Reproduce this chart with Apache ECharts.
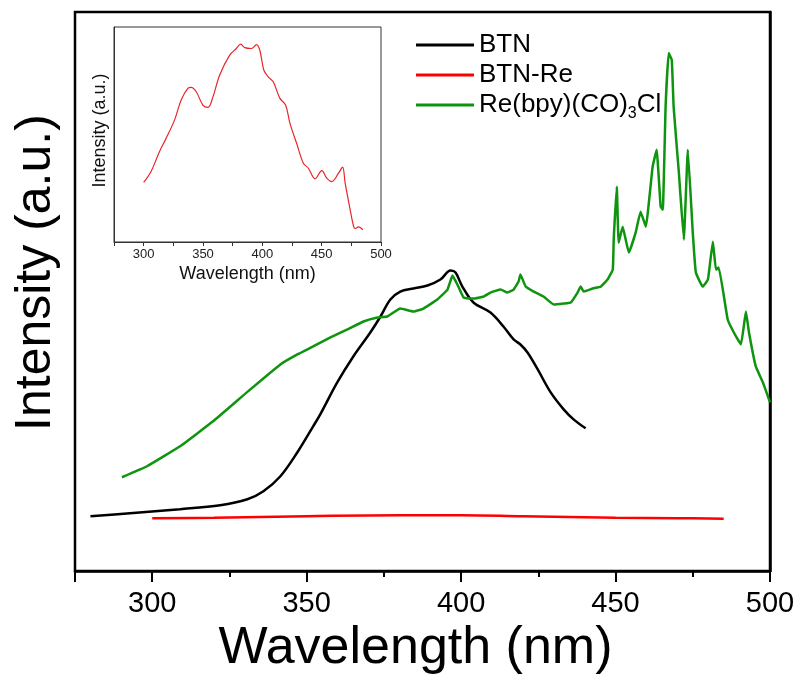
<!DOCTYPE html>
<html>
<head>
<meta charset="utf-8">
<script src="https://cdn.jsdelivr.net/npm/echarts@6/dist/echarts.min.js"></script>
<style>
  html, body { margin: 0; padding: 0; background: #fff; }
  #chart { width: 803px; height: 680px; }
</style>
</head>
<body>
<div id="chart"></div>
<script>
// Emission spectra: wavelength (nm) vs intensity (a.u.)
const btnWl = [280, 292.8, 309, 322, 330.8, 336, 341.5, 347, 352.1, 354.4, 359.9, 365.1, 370.6, 373.9, 377.1, 380.3, 384.6, 389.1, 393.3, 396.6, 398.2, 400.4, 404, 409.5, 413.7, 417, 419.2, 421.5, 424.8, 429, 433.2, 436.4, 440.3];
const btnI  = [55, 58, 62, 66, 72, 80, 95, 119, 145, 157, 189, 215, 239, 255, 272, 280, 283, 286, 292, 301, 299, 285, 269, 259, 245, 232, 227, 219, 202, 179, 162, 152, 143];

const btnReWl = [300, 320, 350, 380, 400, 420, 450, 470, 485];
const btnReI  = [53, 53.5, 55, 56, 56, 55, 53.5, 53, 52.5];

const reWl = [290.2, 298.3, 309, 319.7, 331, 341.5, 347, 352.1, 357.7, 363.2, 368.4, 372.9, 376.1, 380.3, 384.6, 387.8, 392.3, 395.6, 397.2, 398.8, 400.8, 404, 407.3, 409.5, 412.8, 415, 417, 418.6, 419.2, 420.9, 423.5, 426.7, 430, 433.2, 435.5, 437.7, 438.7, 439.7, 442.6, 445.2, 447.4, 449.1, 449.4, 450.4, 451, 452.3, 454.3, 456.5, 458.1, 459.8, 462, 463.3, 464.6, 465.3, 466.2, 467.2, 468.2, 468.8, 470.5, 472.1, 473.4, 475, 476, 478.2, 479.9, 481.5, 482.5, 483.4, 486.3, 488.3, 490.6, 492.2, 493.2, 495.4, 497.7, 500];
const reI  = [94, 105, 125, 150, 180, 207, 217, 225, 234, 242, 250, 254, 255, 263, 260, 263, 272, 282, 296, 287, 274, 273, 275, 279, 282, 279, 282, 290, 297, 285, 280, 275, 267, 268, 269, 279, 285, 280, 283, 285, 292, 302, 332, 385, 329, 345, 319, 339, 360, 345, 405, 422, 365, 362, 465, 519, 512, 465, 399, 332, 422, 339, 299, 285, 292, 330, 302, 304, 252, 239, 227, 260, 239, 205, 189, 169];

// Inset: BTN-Re spectrum on its own scale
const insetWl = [300, 306.2, 313.3, 318.9, 326, 331.6, 337.2, 340, 344.3, 349.9, 354.2, 358.4, 364, 372.5, 378.1, 381.8, 385.2, 390.8, 395.1, 397.9, 401.3, 405, 409.2, 414.8, 419.6, 423.3, 428.9, 434.6, 438.8, 444.4, 450.1, 454.3, 458.5, 464.2, 467.6, 469.8, 473.5, 476.9, 478.3, 481.1, 484.8];
const insetI  = [27.7, 32.8, 42, 48.2, 56.7, 66, 71.4, 71.9, 69.9, 63.7, 62.6, 67.5, 77.6, 86.9, 90, 92, 90.4, 90, 91.8, 89.2, 79.9, 76.8, 74.5, 66.8, 63.7, 55.2, 45.9, 36.6, 34.3, 29.4, 33.2, 29.7, 28.1, 32, 34.8, 27.4, 16.5, 7.3, 6.3, 7, 5.7];

const majorTicks = [300, 350, 400, 450, 500];
const seriesNames = ['BTN', 'BTN-Re', 'Re(bpy)(CO)3Cl'];

const pairs = (xs, ys) => xs.map((x, i) => [x, ys[i]]);
const FONT = '"Liberation Sans", Arial, sans-serif';

const chart = echarts.init(document.getElementById('chart'), null, { renderer: 'canvas' });

chart.setOption({
  animation: false,
  backgroundColor: '#fff',
  textStyle: { fontFamily: FONT },
  grid: [
    { left: 75, top: 12, right: 33, bottom: 108, show: true, borderColor: '#000', borderWidth: 2.5, containLabel: false },
    { left: 114, top: 27, width: 267, height: 215, show: true, borderColor: '#333', borderWidth: 1, containLabel: false }
  ],
  legend: {
    data: seriesNames,
    orient: 'vertical',
    left: 411,
    top: 27,
    itemWidth: 58,
    itemHeight: 14,
    itemGap: 4,
    icon: 'path://M0,0 L58,0 L58,3 L0,3 Z',
    formatter: name => name === 'Re(bpy)(CO)3Cl' ? '{n|Re(bpy)(CO)}{s|3}{n|Cl}' : name,
    textStyle: {
      fontFamily: FONT, fontSize: 26, color: '#000',
      rich: {
        n: { fontFamily: FONT, fontSize: 26, color: '#000' },
        s: { fontFamily: FONT, fontSize: 16, color: '#000', verticalAlign: 'bottom', padding: [18, 0, 0, 0] }
      }
    }
  },
  xAxis: [
    {
      // main wavelength axis: minor ticks every 25 nm, labels every 50 nm
      gridIndex: 0, type: 'value', min: 275, max: 500, interval: 25,
      axisLine: { show: true, lineStyle: { color: '#000', width: 2.5 } },
      axisTick: { show: true, inside: false, length: 6, lineStyle: { color: '#000', width: 2 } },
      axisLabel: { customValues: majorTicks, fontSize: 29, color: '#000', margin: 18, fontFamily: FONT },
      splitLine: { show: false },
      name: 'Wavelength (nm)', nameLocation: 'middle', nameGap: 48,
      nameTextStyle: { fontSize: 52, color: '#000', fontFamily: FONT, padding: [0, 14, 0, 0] }
    },
    {
      // longer major ticks at 300..500 nm, counted back from the 500 nm end
      gridIndex: 0, type: 'value', min: 0, max: 225, interval: 50, inverse: true, position: 'bottom',
      axisLine: { show: false },
      axisTick: { show: true, inside: false, length: 11, lineStyle: { color: '#000', width: 2 } },
      axisLabel: { show: false },
      splitLine: { show: false }
    },
    {
      gridIndex: 1, type: 'value', min: 275, max: 500, interval: 25,
      axisLine: { show: true, lineStyle: { color: '#333', width: 1 } },
      axisTick: { show: true, inside: false, length: 4, lineStyle: { color: '#333', width: 1 } },
      axisLabel: { formatter: v => (v % 50 === 0 ? String(v) : ''), fontSize: 13, color: '#222', margin: 6, fontFamily: FONT },
      splitLine: { show: false },
      name: 'Wavelength (nm)', nameLocation: 'middle', nameGap: 23,
      nameTextStyle: { fontSize: 18, color: '#111', fontFamily: FONT }
    }
  ],
  yAxis: [
    {
      gridIndex: 0, type: 'value', min: 0, max: 560,
      axisLine: { show: true, lineStyle: { color: '#000', width: 2.5 } },
      axisTick: { show: false }, axisLabel: { show: false }, splitLine: { show: false },
      name: 'Intensity (a.u.)', nameLocation: 'middle', nameRotate: 90, nameGap: 14,
      nameTextStyle: { fontSize: 50, color: '#000', fontFamily: FONT, padding: [0, 0, 0, 38] }
    },
    {
      gridIndex: 1, type: 'value', min: 0, max: 100,
      axisLine: { show: true, lineStyle: { color: '#333', width: 1 } },
      axisTick: { show: false }, axisLabel: { show: false }, splitLine: { show: false },
      name: 'Intensity (a.u.)', nameLocation: 'middle', nameRotate: 90, nameGap: 5,
      nameTextStyle: { fontSize: 18, color: '#111', fontFamily: FONT, padding: [0, 0, 0, 8] }
    }
  ],
  series: [
    {
      name: 'BTN', type: 'line', xAxisIndex: 0, yAxisIndex: 0,
      data: pairs(btnWl, btnI), showSymbol: false, smooth: 0.35,
      lineStyle: { color: '#000', width: 2.5 }, itemStyle: { color: '#000' }
    },
    {
      name: 'BTN-Re', type: 'line', xAxisIndex: 0, yAxisIndex: 0,
      data: pairs(btnReWl, btnReI), showSymbol: false, smooth: 0.4,
      lineStyle: { color: '#ff0000', width: 2.5 }, itemStyle: { color: '#ff0000' }
    },
    {
      name: 'Re(bpy)(CO)3Cl', type: 'line', xAxisIndex: 0, yAxisIndex: 0,
      data: pairs(reWl, reI), showSymbol: false, smooth: 0.1,
      lineStyle: { color: '#0e940e', width: 2.5 }, itemStyle: { color: '#0e940e' }
    },
    {
      name: 'BTN-Re inset', type: 'line', xAxisIndex: 2, yAxisIndex: 1,
      data: pairs(insetWl, insetI), showSymbol: false, smooth: 0.35,
      lineStyle: { color: '#e8262a', width: 1.2 }, itemStyle: { color: '#e8262a' }
    }
  ]
});
</script>
</body>
</html>
